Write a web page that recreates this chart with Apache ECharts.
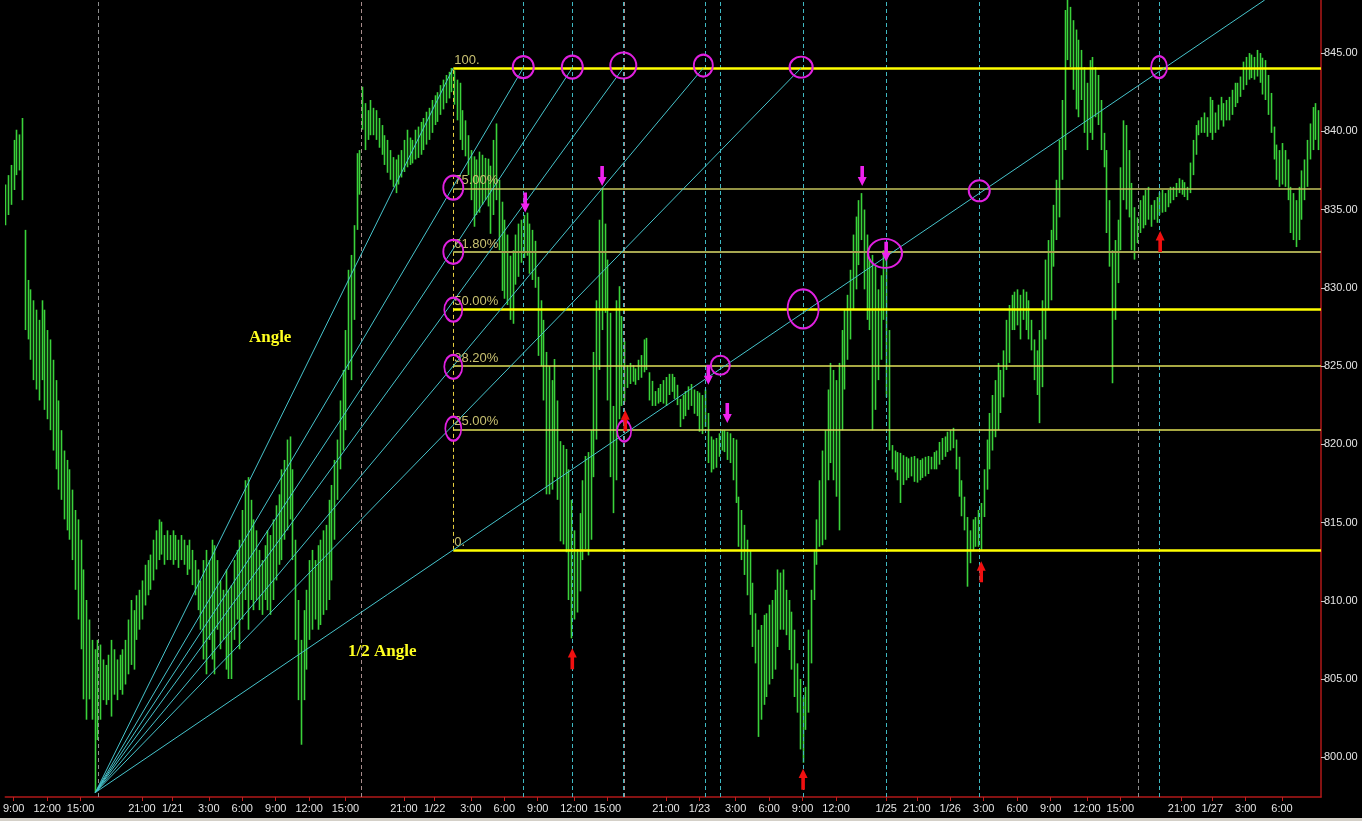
<!DOCTYPE html>
<html><head><meta charset="utf-8">
<script src="https://cdn.jsdelivr.net/npm/echarts@6/dist/echarts.min.js"></script>
<style>html,body{margin:0;padding:0;background:#000;}#c{width:1362px;height:821px;}</style>
</head><body><div id="c"></div>
<script>
// 15-minute bars: high / low prices (bar index 0..471)
const highs = [
836.6,837.2,837.85,839.45,840.1,839.8,840.85,833.7,830.5,829.9,
829.2,828.6,827.95,829.2,828.6,827.3,826.7,825.4,824.1,822.8,
820.9,819.6,819.0,818.4,817.1,815.8,815.2,813.9,812.0,810.05,
808.8,807.5,806.9,807.5,807.2,806.25,805.9,806.55,807.5,806.9,
806.25,806.55,806.9,807.5,808.8,810.05,809.4,810.35,810.7,811.3,
812.3,812.6,812.95,813.9,814.5,815.2,815.05,814.2,814.5,814.2,
814.5,814.2,813.9,814.2,813.9,813.55,813.9,813.25,812.6,812.0,
811.3,812.6,813.25,812.6,813.9,813.55,812.6,811.3,810.7,812.0,
810.7,811.0,812.6,813.25,813.9,815.8,817.7,817.9,816.45,815.2,
814.5,813.25,812.6,813.55,814.5,814.2,815.2,816.1,816.8,818.4,
819.0,820.3,820.5,818.4,813.9,810.05,807.5,809.4,810.7,812.6,
813.25,812.6,813.55,813.9,814.5,814.85,816.45,817.4,819.0,820.3,
822.8,824.75,827.3,831.15,832.1,834.0,838.6,838.8,842.85,841.8,
841.35,842.0,841.5,841.35,840.85,840.4,839.75,839.45,838.8,838.35,
838.2,838.5,838.8,839.45,840.1,839.6,839.45,840.1,840.3,840.6,
840.85,841.25,841.5,842.0,842.3,842.5,842.95,843.3,843.6,843.8,
844.05,843.9,843.3,843.1,841.35,840.7,839.75,838.8,838.4,838.2,
838.7,838.5,838.3,838.25,837.8,839.45,840.5,836.9,835.5,834.35,
833.4,832.05,832.4,833.4,834.1,834.35,834.65,834.8,834.1,833.7,
833.0,830.7,829.2,827.95,825.9,825.0,824.1,825.45,822.8,820.2,
819.95,819.7,818.4,816.45,814.5,813.3,815.6,817.7,819.25,819.5,
820.9,825.9,829.2,834.35,836.4,834.1,831.8,828.4,822.45,829.2,
830.1,828.2,826.6,825.05,825.2,825.05,824.85,825.4,825.7,826.7,
826.8,824.6,824.05,823.4,823.6,823.85,824.1,824.3,824.5,824.5,
824.3,823.8,822.9,823.15,823.4,823.7,823.85,823.5,823.4,823.3,
823.15,823.5,822.0,820.5,820.3,820.4,820.7,820.9,820.9,820.8,
820.7,820.4,820.3,816.65,815.8,814.85,813.9,813.25,811.15,809.2,
808.15,808.45,809.1,809.2,809.75,810.05,810.7,812.0,811.8,812.0,
810.7,810.05,809.3,808.15,806.0,805.0,803.85,804.5,808.15,810.7,
813.25,815.2,817.7,819.6,820.9,823.5,825.2,824.75,824.1,825.2,
827.3,828.6,829.55,831.15,833.4,834.55,835.6,836.05,835.0,833.4,
831.8,832.1,831.45,829.9,830.8,832.4,832.75,827.3,819.95,819.6,
819.5,819.45,819.3,819.2,819.1,819.2,819.25,819.1,819.0,819.1,
819.2,819.25,819.2,819.5,819.6,820.15,820.4,820.5,820.8,820.9,
821.05,820.3,819.2,817.7,816.65,815.35,814.5,815.2,815.35,815.8,
816.25,818.4,820.3,822.0,823.15,824.1,825.2,824.75,826.0,827.95,
828.9,829.55,829.75,829.9,829.55,829.9,829.75,829.2,827.95,826.7,
826.0,827.3,829.2,831.8,833.05,833.7,835.3,836.9,839.45,842.0,
847.75,848.5,847.95,847.1,846.5,845.85,845.2,844.1,843.1,844.55,
844.75,844.1,843.6,842.0,839.9,838.8,835.6,832.4,833.05,834.35,
837.7,840.7,840.4,838.8,836.7,835.15,834.5,835.6,835.9,836.25,
836.45,835.3,835.6,835.8,836.1,836.25,836.05,836.25,836.45,836.45,
836.7,837.0,836.9,836.75,836.45,838.0,839.45,840.4,840.7,840.9,
841.2,840.9,842.2,842.0,841.2,841.7,842.2,841.8,842.0,842.2,
842.65,843.1,843.1,843.5,844.45,844.75,845.0,844.9,844.75,845.2,
845.0,844.7,844.55,843.6,842.45,840.3,839.15,838.8,839.25,838.8,
838.2,836.45,836.05,835.6,836.45,837.5,838.2,839.45,840.5,841.55,
841.8,841.35
];
const lows = [
834.0,834.65,835.3,836.25,837.2,837.5,835.6,827.3,826.7,825.4,
824.1,823.5,822.8,824.1,822.2,821.6,820.9,819.6,818.4,817.1,
816.45,815.2,814.5,813.9,812.6,810.7,808.8,806.9,803.7,802.4,
803.7,802.4,797.75,801.1,802.4,803.65,803.35,803.65,802.6,804.0,
803.65,804.3,804.0,804.65,805.3,805.9,805.6,807.5,808.15,808.8,
809.7,810.35,810.7,811.3,812.0,812.6,812.95,812.3,812.6,812.6,
812.3,812.6,812.1,812.6,812.3,811.65,812.0,811.0,810.35,809.4,
808.15,806.25,805.3,807.5,806.25,805.3,808.15,806.9,807.5,805.6,
805.0,805.0,807.5,808.8,806.9,808.8,810.05,808.15,810.05,809.4,
810.05,809.4,809.1,810.05,809.4,809.1,810.05,811.3,812.3,812.6,
813.9,814.5,815.2,812.6,807.5,803.65,800.8,803.65,805.6,807.5,
808.15,808.8,808.15,808.45,809.1,809.4,810.05,811.3,813.9,816.45,
818.4,819.6,820.9,824.75,824.1,827.95,833.7,835.95,840.1,838.8,
839.45,839.75,839.75,839.45,838.95,838.5,837.85,837.35,836.9,836.45,
836.05,836.6,837.05,837.4,837.7,837.85,837.95,838.2,838.3,838.5,
838.8,839.15,839.45,839.9,840.4,840.6,841.05,841.4,841.8,842.1,
842.5,841.7,840.7,839.45,838.8,838.4,837.2,835.6,833.9,834.65,
834.8,835.3,835.6,835.2,833.45,834.65,835.6,832.4,829.8,829.3,
828.9,827.95,827.7,830.2,830.7,831.6,831.9,832.05,830.9,830.5,
830.0,825.65,825.0,822.8,816.8,816.8,817.1,817.9,816.45,813.8,
813.6,813.1,810.05,807.6,808.8,809.25,810.6,812.6,813.3,812.9,
813.9,817.9,820.3,824.75,827.3,828.4,822.8,817.9,815.6,817.7,
821.6,822.45,822.7,823.6,823.85,824.0,823.8,824.1,824.25,824.6,
824.75,822.8,822.45,822.45,822.6,822.7,822.6,822.45,823.15,823.35,
822.9,822.5,821.1,821.6,821.8,822.2,822.45,821.95,821.8,820.8,
820.65,821.1,818.8,818.2,818.4,818.5,819.2,819.6,819.5,819.0,
818.8,817.7,816.25,813.45,812.6,811.65,810.35,809.1,807.05,806.0,
801.3,802.4,803.35,803.85,804.65,805.0,805.6,807.05,808.15,808.15,
807.8,806.85,805.6,803.85,802.85,800.5,799.65,801.75,802.85,806.0,
810.05,812.3,813.45,813.55,813.9,817.7,818.8,817.7,816.65,814.5,
820.9,823.5,825.4,826.7,828.6,829.9,831.45,833.05,829.9,827.95,
827.3,820.9,822.2,824.1,825.4,827.95,823.0,819.6,818.4,818.2,
817.7,816.25,817.4,817.7,817.85,817.95,817.6,817.55,817.7,817.85,
817.95,818.1,818.4,818.4,818.4,818.7,819.0,819.2,819.5,819.6,
819.75,818.4,816.65,815.4,814.5,810.9,812.4,813.25,813.45,813.45,
813.25,815.35,817.1,818.4,819.6,820.45,820.9,822.0,823.0,824.75,
825.2,827.3,827.3,827.6,826.7,827.95,827.3,826.7,826.0,824.1,
823.15,821.35,823.65,826.7,828.6,829.2,831.35,833.05,834.5,836.9,
838.8,844.55,844.1,842.65,841.4,840.9,842.0,839.9,838.8,839.9,
839.45,840.9,840.4,838.8,837.7,833.5,831.35,823.9,827.95,830.3,
832.4,835.6,835.0,834.5,832.4,831.8,832.85,833.5,833.8,834.0,
834.35,833.9,834.35,834.15,834.65,834.8,834.85,835.15,835.4,835.6,
835.8,836.05,835.95,835.8,835.6,836.05,837.2,838.5,839.75,839.9,
839.9,839.65,839.9,839.45,839.9,840.1,840.7,840.3,840.7,840.7,
841.05,841.55,841.8,842.2,842.65,842.95,843.3,843.4,843.3,843.5,
843.1,842.35,842.0,841.05,839.9,838.2,836.9,836.45,836.6,836.45,
835.6,833.5,833.05,832.6,833.05,834.35,835.6,836.45,838.2,838.8,
839.45,838.8
];

// x-axis tick labels and their bar positions
const tickPos = [3,15,27,49,60,73,85,97,109,122,143,154,167,179,191,204,216,237,249,262,274,286,298,316,327,339,351,363,375,388,400,422,433,445,458];
const tickLabels = ['9:00','12:00','15:00','21:00','1/21','3:00','6:00','9:00','12:00','15:00','21:00','1/22','3:00','6:00','9:00','12:00','15:00','21:00','1/23','3:00','6:00','9:00','12:00','1/25','21:00','1/26','3:00','6:00','9:00','12:00','15:00','21:00','1/27','3:00','6:00'];
const yTicks = [800,805,810,815,820,825,830,835,840,845];

// Fibonacci retracement
const fibLow = 813.25, fibHigh = 844.05, fibStartBar = 160.7;
const fibPercents = [100, 75, 61.8, 50, 38.2, 25, 0];
const fibLabels = ['100.', '75.00%', '61.80%', '50.00%', '38.20%', '25.00%', '0.'];

// Fan from the low
const fanOrigin = [32.3, 797.75];
const fanTargetBars = [160.7, 185.8, 203.4, 221.7, 250.4, 285.5];

// vertical markers (bar positions)
const sessionBars = [33.4, 127.7, 222.0, 316.0, 406.4];
const sessionColors = ['#8c8c8c', '#a88c8c', '#b08c8c', '#8c8c8c', '#8c8c8c'];
const cyanBars = [185.8, 203.4, 221.7, 251.1, 256.5, 286.2, 316.0, 349.4, 413.9];

// annotation circles [bar, price]
const circlePts = [
 [185.8,844.1],[203.4,844.1],[221.7,844.2],[250.4,844.2],[285.5,844.1],[413.9,844.1],
 [160.7,836.4],[160.7,832.3],[160.7,828.6],[160.7,824.95],[160.7,821.0],
 [222.0,820.85],[256.5,825.05],[286.2,828.65],[315.6,832.2],[349.4,836.2]
];
const circleSizes = [
 [21,22],[21,23],[26,26],[19,22],[23,21],[16,22],
 [20,24],[20,24],[18,24],[18,24],[16,24],
 [14,21],[19,19],[31,39],[34,29],[21,21]
];
const downArrowPts = [[186.5,835.45],[214.1,837.15],[307.4,837.15],[252.2,824.45],[259.0,822.0],[316.0,832.3]];
const upArrowPts = [[203.4,806.3],[222.4,821.5],[286.2,798.6],[350.1,811.85],[414.3,832.95]];
const textNotes = [[95.0,826.8,'Angle'],[135.2,806.75,'1/2 Angle']];

const Y_MIN = 797.46, Y_MAX = 848.39, X_MAX = 472;

const chart = echarts.init(document.getElementById('c'), null, {renderer:'canvas'});
const fibVal = p => fibLow + (fibHigh - fibLow) * p / 100;
const fibStyle = {
  100:{color:'#ffff00',width:2.5}, 75:{color:'#c4c45c',width:1.5}, 61.8:{color:'#a6a650',width:2},
  50:{color:'#ffff00',width:2.5}, 38.2:{color:'#e0e05a',width:1.5}, 25:{color:'#e0e05a',width:1.5}, 0:{color:'#ffff00',width:2.5}
};

const fibLines = fibPercents.map((p, k) => [
  {coord:[fibStartBar, fibVal(p)], lineStyle:{color:fibStyle[p].color, width:fibStyle[p].width, type:'solid'},
   label:{show:true, position:'insideStartTop', formatter:fibLabels[k], color:'#c8c070', fontSize:13, fontFamily:'Liberation Sans', distance:[1,1]}},
  {coord:[X_MAX, fibVal(p)]}
]);

const vLines = [];
sessionBars.forEach((b,k) => vLines.push([{coord:[b,Y_MIN], lineStyle:{color:sessionColors[k], width:1, type:[4,3]}},{coord:[b,Y_MAX]}]));
cyanBars.forEach(b => vLines.push([{coord:[b,Y_MIN], lineStyle:{color:'#3fb8c2', width:1, type:[4,3]}},{coord:[b,Y_MAX]}]));
vLines.push([{coord:[fibStartBar,fibLow], lineStyle:{color:'#e8d040', width:1, type:[4,3]}},{coord:[fibStartBar,fibHigh]}]);

const fanLines = fanTargetBars.map(b => [{coord:fanOrigin},{coord:[b, fibHigh]}]);
const halfSlope = (fibLow - fanOrigin[1]) / (fibStartBar - fanOrigin[0]);
const halfEndBar = fanOrigin[0] + (Y_MAX - fanOrigin[1]) / halfSlope;
fanLines.push([{coord:fanOrigin},{coord:[halfEndBar, Y_MAX]}]);

const downPath = 'path://M3,0 L7,0 L7,11 L10,11 L5,20 L0,11 L3,11 Z';
const upPath = 'path://M5,0 L10,9 L7,9 L7,20 L3,20 L3,9 L0,9 Z';

chart.setOption({
  animation:false,
  backgroundColor:'#000000',
  grid:{left:5, right:41, top:0, bottom:24, containLabel:false},
  xAxis:{type:'value', min:0, max:X_MAX,
    axisLine:{show:true, onZero:false, lineStyle:{color:'#b01818', width:1.5}},
    axisTick:{show:true, customValues:tickPos, length:4, inside:false, lineStyle:{color:'#c02020'}},
    axisLabel:{customValues:tickPos, color:'#e4e4e4', fontSize:11, fontFamily:'Liberation Sans', margin:6,
      formatter:v => { const k = tickPos.indexOf(v); return k >= 0 ? tickLabels[k] : ''; }},
    splitLine:{show:false}},
  yAxis:{type:'value', position:'right', min:Y_MIN, max:Y_MAX,
    axisLine:{show:true, onZero:false, lineStyle:{color:'#b01818', width:1.5}},
    axisTick:{show:true, customValues:yTicks, length:4, lineStyle:{color:'#c8c8c8'}},
    axisLabel:{customValues:yTicks, color:'#e4e4e4', fontSize:11, fontFamily:'Liberation Sans', margin:3,
      formatter:v => v.toFixed(2)},
    splitLine:{show:false}},
  graphic:[{type:'rect', left:0, bottom:0, shape:{width:1362, height:3}, style:{fill:'#d4d0c8'}}],
  series:[
    {type:'custom', name:'price', clip:true, z:2,
      data: highs.map((h,i) => [i, h, lows[i]]),
      encode:{x:0, y:[1,2]},
      renderItem:(params, api) => {
        const i = api.value(0);
        const top = api.coord([i, api.value(1)]);
        const bot = api.coord([i, api.value(2)]);
        const x = Math.round(top[0]) + 0.5;
        return {type:'line', shape:{x1:x, y1:top[1], x2:x, y2:bot[1]}, style:{stroke:'#3ad23a', lineWidth:1.6}};
      }},
    {type:'line', name:'verticals', data:[], z:3, silent:true,
      markLine:{silent:true, symbol:'none', animation:false, label:{show:false}, data:vLines}},
    {type:'line', name:'fib', data:[], z:4, silent:true,
      markLine:{silent:true, symbol:'none', animation:false, data:fibLines}},
    {type:'line', name:'fan', data:[], z:5, silent:true,
      markLine:{silent:true, symbol:'none', animation:false, label:{show:false},
        lineStyle:{color:'#46c4cc', width:1, type:'solid'}, data:fanLines}},
    {type:'scatter', name:'circles', z:6, silent:true,
      data: circlePts.map((p,k) => ({value:p, symbolSize:circleSizes[k]})),
      symbol:'circle', itemStyle:{color:'rgba(0,0,0,0)', borderColor:'#e020e0', borderWidth:2, opacity:1}},
    {type:'scatter', name:'down', z:7, silent:true, data:downArrowPts, symbol:downPath, symbolSize:[9,20],
      symbolKeepAspect:false, itemStyle:{color:'#ee22ee', opacity:1}},
    {type:'scatter', name:'up', z:7, silent:true, data:upArrowPts, symbol:upPath, symbolSize:[9,21],
      symbolKeepAspect:false, itemStyle:{color:'#f01010', opacity:1}},
    {type:'scatter', name:'notes', z:8, silent:true, symbolSize:0, itemStyle:{opacity:1},
      data:textNotes.map(t => ({value:[t[0], t[1]], name:t[2]})),
      label:{show:true, position:'inside', formatter:p => p.name, color:'#ffff20', textBorderWidth:0, opacity:1,
        fontFamily:'Liberation Serif', fontWeight:'bold', fontSize:17}}
  ]
});
</script></body></html>
